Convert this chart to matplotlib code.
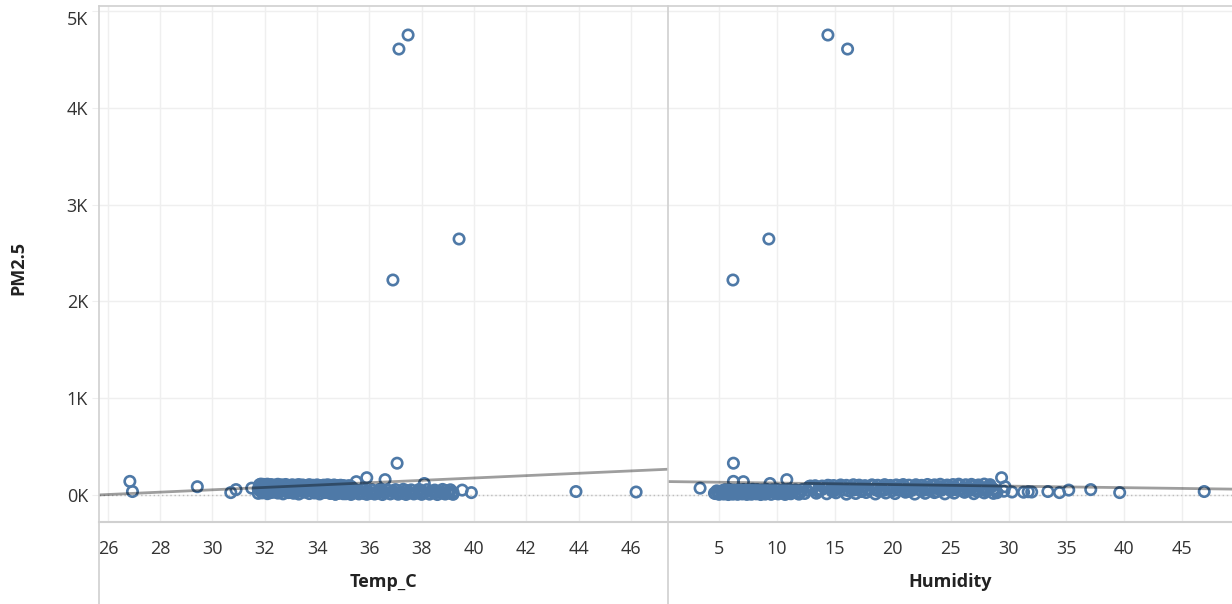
import numpy as np
import matplotlib
matplotlib.use("Agg")
import matplotlib.pyplot as plt
from matplotlib.lines import Line2D
from matplotlib.ticker import FuncFormatter

# one row per reading: temperature (C), humidity (%), PM2.5
temp_c = [
    # dense low-temp / humid group
    35.3, 35.2, 35.05, 34.9, 34.8, 34.65, 34.5, 34.4, 34.25, 34.1,
    34.0, 33.85, 33.7, 33.6, 33.45, 33.3, 33.2, 33.05, 32.9, 32.8,
    32.65, 32.5, 32.4, 32.25, 32.1, 32.0, 31.95, 31.9, 31.85, 31.8,
    35.4, 35.25, 35.1, 35.0, 34.85, 34.7, 34.55, 34.45, 34.3, 34.15,
    34.05, 33.9, 33.75, 33.65, 33.5, 33.35, 33.25, 33.1, 32.95, 32.85,
    32.7, 32.55, 32.45, 32.3, 32.15, 32.05, 31.9, 31.75, 32.6, 33.0,
    35.35, 35.1, 34.9, 34.7, 34.5, 34.3, 34.1, 33.9, 33.7, 33.5,
    33.3, 33.1, 32.9, 32.7, 32.5, 32.3, 32.1, 31.9, 31.75, 32.2,
    35.2, 34.95, 34.75, 34.6, 34.35, 34.2, 33.95, 33.8, 33.55, 33.4,
    33.15, 32.95, 32.7, 32.5, 32.2,
    35.0, 34.8, 34.55, 34.35, 34.15, 33.8, 33.6, 33.3, 33.0, 32.75,
    32.45, 32.1, 31.85,
    35.15, 34.9, 34.7, 34.45, 34.25, 34.0, 33.75, 33.5, 33.25, 32.95,
    32.7, 32.4, 32.0, 31.8,
    35.25, 35.0, 34.8, 34.5, 34.3, 34.05, 33.8, 33.55, 33.2, 32.9,
    32.6, 32.3, 31.95,
    # dense hot / dry group
    34.6, 34.9, 35.2, 35.5, 35.8, 36.1, 36.4, 36.7, 37.0, 37.3,
    37.6, 37.9, 38.2, 38.5, 38.8, 39.1,
    34.5, 34.8, 35.1, 35.4, 35.7, 36.0, 36.3, 36.6, 36.9, 37.2,
    37.5, 37.8, 38.1, 38.4, 38.7, 39.0, 39.2,
    34.7, 35.0, 35.3, 35.6, 35.9, 36.2, 36.5, 36.8, 37.1, 37.4,
    37.7, 38.0, 38.3, 38.6, 38.9, 39.2,
    34.55, 35.05, 35.55, 36.05, 36.55, 37.05, 37.55, 38.05, 38.55, 39.05,
    34.9, 35.4, 35.9, 36.4, 36.9, 37.4, 37.9, 38.4, 38.9,
    34.8, 35.3, 35.8, 36.3, 36.8, 37.3, 37.8, 38.3, 38.8, 39.15,
    # scattered readings
    37.48, 37.13, 39.43, 36.9, 37.06, 35.9, 36.6, 35.5, 26.84, 38.1,
    26.94, 29.42, 30.7, 30.9, 31.5, 39.55, 39.9, 43.9, 46.2,
    33.2, 34.0, 32.6, 35.0,
]
humidity = [
    12.8, 13.3, 13.9, 14.4, 14.9, 15.5, 16.0, 16.6, 17.1, 17.6,
    18.2, 18.7, 19.3, 19.8, 20.3, 20.9, 21.4, 22.0, 22.5, 23.0,
    23.6, 24.1, 24.7, 25.2, 25.7, 26.3, 26.8, 27.4, 27.9, 28.4,
    13.0, 13.6, 14.1, 14.7, 15.2, 15.8, 16.3, 16.9, 17.4, 17.9,
    18.5, 19.0, 19.6, 20.1, 20.6, 21.2, 21.7, 22.3, 22.8, 23.3,
    23.9, 24.4, 25.0, 25.5, 26.0, 26.6, 27.1, 27.7, 28.2, 28.7,
    13.4, 14.3, 15.1, 16.0, 16.8, 17.7, 18.5, 19.4, 20.2, 21.1,
    21.9, 22.8, 23.6, 24.5, 25.3, 26.2, 27.0, 27.9, 28.7, 29.0,
    13.1, 14.2, 15.3, 16.4, 17.5, 18.6, 19.7, 20.8, 21.9, 23.0,
    24.1, 25.2, 26.3, 27.4, 28.5,
    13.5, 14.8, 16.2, 17.3, 18.8, 20.0, 21.3, 22.5, 23.8, 25.0,
    26.1, 27.3, 28.1,
    12.6, 13.8, 15.0, 16.6, 17.9, 19.2, 20.4, 21.6, 22.9, 24.2,
    25.4, 26.7, 27.8, 28.9,
    12.9, 14.5, 15.7, 17.0, 18.3, 19.5, 20.7, 22.1, 23.4, 24.6,
    25.8, 27.0, 28.3,
    12.2, 11.6, 11.0, 10.5, 10.0, 9.6, 9.1, 8.7, 8.3, 7.9,
    7.5, 7.1, 6.7, 6.3, 5.9, 5.5,
    12.0, 11.3, 10.8, 10.2, 9.8, 9.3, 8.9, 8.5, 8.1, 7.7,
    7.3, 6.9, 6.5, 6.1, 5.7, 5.2, 4.9,
    11.9, 11.2, 10.7, 10.1, 9.5, 9.0, 8.6, 8.2, 7.8, 7.4,
    7.0, 6.6, 6.2, 5.8, 5.4, 5.0,
    4.6, 5.0, 5.5, 6.0, 6.4, 6.8, 7.6, 8.4, 9.2, 10.4,
    4.8, 5.3, 5.7, 6.3, 7.2, 8.0, 8.8, 9.7, 11.4,
    12.4, 11.8, 10.9, 9.9, 9.0, 8.1, 7.2, 6.4, 5.6, 4.7,
    14.4, 16.1, 9.3, 6.2, 6.24, 29.4, 10.85, 7.1, 6.24, 9.4,
    46.9, 29.7, 39.6, 37.1, 3.36, 35.2, 34.4, 33.4, 32.0,
    30.3, 31.3, 31.7, 29.6,
]
pm25 = [
    88, 95, 92, 100, 97, 103, 99, 105, 101, 96,
    104, 100, 106, 98, 103, 107, 101, 105, 99, 108,
    104, 110, 102, 107, 111, 105, 109, 103, 112, 106,
    62, 55, 68, 58, 64, 52, 70, 60, 57, 66,
    54, 63, 59, 69, 56, 61, 67, 53, 65, 58,
    62, 71, 55, 64, 60, 68, 57, 63, 66, 59,
    18, 12, 22, 8, 15, 25, 10, 20, 14, 28,
    9, 17, 24, 11, 19, 27, 13, 21, 16, 23,
    80, 76, 84, 78, 82, 75, 86, 79, 83, 77,
    85, 81, 74, 87, 80,
    40, 36, 42, 35, 39, 44, 37, 41, 34, 43,
    38, 36, 40,
    48, 52, 46, 50, 54, 47, 51, 45, 53, 49,
    55, 48, 52, 46,
    92, 96, 90, 94, 98, 91, 95, 93, 97, 90,
    99, 94, 92,
    55, 52, 58, 50, 56, 53, 57, 51, 55, 58,
    52, 56, 54, 50, 57, 53,
    30, 34, 28, 33, 27, 31, 35, 29, 32, 26,
    34, 30, 28, 33, 29, 31, 27,
    8, 12, 5, 10, 6, 9, 4, 11, 7, 5,
    10, 6, 8, 4, 9, 6,
    18, 22, 20, 16, 23, 19, 21, 17, 24, 20,
    42, 45, 40, 44, 41, 46, 43, 39, 45,
    15, 18, 14, 17, 13, 16, 19, 15, 18, 14,
    4755, 4610, 2646, 2222, 328, 178, 158, 137, 140, 118,
    35, 85, 24, 55, 70, 50, 24, 35, 30,
    30, 28, 33, 38,
]

# linear trend lines (slope, intercept)
trend_temp = (12.2, -313.0)
trend_hum = (-1.6, 139.0)

temp_ticks = [26, 28, 30, 32, 34, 36, 38, 40, 42, 44, 46]
hum_ticks = [5, 10, 15, 20, 25, 30, 35, 40, 45]
pm_ticks = [0, 1000, 2000, 3000, 4000, 5000]

plt.rcParams['font.family'] = ['Open Sans', 'DejaVu Sans']
blue = '#4e79a7'
line_grey = '#d0d0d0'

fig = plt.figure(figsize=(12.32, 6.04), dpi=100)
W, H = 1232, 604
bottom = (H - 522) / H
height = (522 - 6) / H
ax1 = fig.add_axes([99 / W, bottom, 569 / W, height])
ax2 = fig.add_axes([668 / W, bottom, 564 / W, height])

panels = [
    (ax1, temp_c, trend_temp, temp_ticks, (25.66, 47.42), 'Temp_C'),
    (ax2, humidity, trend_hum, hum_ticks, (0.59, 49.3), 'Humidity'),
]

for ax, xs, trend, ticks, xlim, title in panels:
    ax.set_xlim(*xlim)
    ax.set_ylim(-280, 5055)
    ax.set_xticks(ticks)
    ax.set_yticks(pm_ticks)
    ax.grid(True, color='#efefef', lw=1)
    ax.set_axisbelow(True)
    ax.axhline(0, color='#bdbdbd', lw=1, ls=(0, (1, 2)), zorder=1)
    ax.scatter(xs, pm25, s=56, facecolors='none', edgecolors=blue,
               linewidths=1.9, zorder=2)
    tx = np.array(xlim)
    ax.plot(tx, trend[0] * tx + trend[1], color='black', alpha=0.38,
            lw=2, zorder=3, solid_capstyle='butt')
    for s in ax.spines.values():
        s.set_visible(False)
    ax.tick_params(axis='x', length=0, pad=13, labelsize=13, labelcolor='#333333')
    ax.tick_params(axis='y', length=5, color='#efefef', pad=3, labelsize=13,
                   labelcolor='#333333')
    ax.set_xlabel(title, fontsize=13, fontweight='bold', color='#222222', labelpad=11)

ax1.yaxis.set_major_formatter(FuncFormatter(lambda v, p: f'{int(v / 1000)}K'))
ax2.tick_params(axis='y', left=False, labelleft=False)
fig.canvas.draw()
ax1.get_yticklabels()[-1].set_va('top')

# frame lines like the original dashboard
fig.add_artist(Line2D([99 / W, 1], [1 - 6 / H, 1 - 6 / H], color=line_grey, lw=1.2))
fig.add_artist(Line2D([99 / W, 1], [bottom, bottom], color=line_grey, lw=1.5))
fig.add_artist(Line2D([99 / W, 99 / W], [0, 1 - 6 / H], color=line_grey, lw=1.2))
fig.add_artist(Line2D([668 / W, 668 / W], [0, 1 - 6 / H], color=line_grey, lw=1.2))

fig.text(18 / W, 1 - 268 / H, 'PM2.5', rotation=90, fontsize=13, fontweight='bold',
         color='#222222', ha='center', va='center')

fig.savefig('out.png', dpi=100)
